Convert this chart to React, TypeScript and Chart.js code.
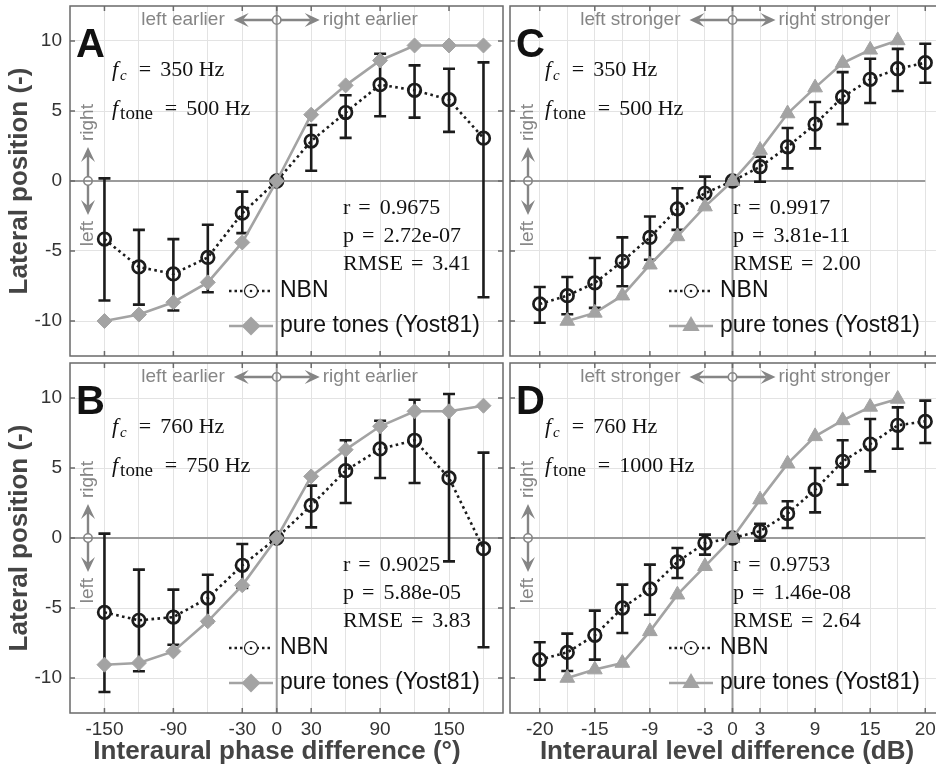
import React, { useEffect, useRef } from 'react';
import { Chart, registerables } from 'chart.js';

Chart.register(...registerables);

// ---------------- data ----------------
// Interaural phase difference (deg)
const IPD_DEG = [-150, -120, -90, -60, -30, 0, 30, 60, 90, 120, 150, 180];
const IPD_GRID = [-150, -120, -90, -60, -30, 0, 30, 60, 90, 120, 150, 180];
const IPD_TICK_LABELS = [-150, -90, -30, 0, 30, 90, 150];

// Interaural level difference (dB), plotted at equally spaced positions
const ILD_DB = [-20, -18, -15, -12, -9, -6, -3, 0, 3, 6, 9, 12, 15, 18, 20];
const ILD_TICK_LABELS = [-20, -15, -9, -3, 0, 3, 9, 15, 20];
const ILD_POS = ILD_DB.map((_, i) => i - (ILD_DB.length - 1) / 2);

const Y_TICKS = [-10, -5, 0, 5, 10];

// Panel A: fc = 350 Hz, IPD
const A_NBN = [-4.15, -6.14, -6.64, -5.46, -2.3, 0, 2.85, 4.89, 6.88, 6.48, 5.81, 3.06];
const A_NBN_LO = [-8.54, -8.83, -9.25, -7.95, -3.72, 0, 0.73, 3.08, 4.63, 4.53, 3.51, -8.3];
const A_NBN_HI = [0.19, -3.49, -4.15, -3.13, -0.76, 0, 4.0, 6.12, 9.09, 8.26, 8.02, 8.47];
const A_PT = [-10.0, -9.54, -8.66, -7.24, -4.39, 0, 4.74, 6.83, 8.61, 9.68, 9.68, 9.68];

// Panel B: fc = 760 Hz, IPD
const B_NBN = [-5.31, -5.88, -5.65, -4.29, -1.95, 0, 2.33, 4.81, 6.36, 6.98, 4.29, -0.76];
const B_NBN_LO = [-11.0, -9.52, -7.62, -6.02, -3.57, 0, 0.76, 2.5, 4.29, 3.93, -1.67, -7.8];
const B_NBN_HI = [0.31, -2.26, -3.69, -2.62, -0.43, 0, 3.74, 6.98, 8.38, 9.88, 10.29, 6.1];
const B_PT = [-9.05, -8.93, -8.1, -5.95, -3.38, 0, 4.4, 6.31, 7.98, 9.05, 9.05, 9.45];

// Panel C: fc = 350 Hz, ILD
const C_NBN = [-8.78, -8.19, -7.28, -5.74, -4.03, -1.99, -0.88, 0, 1.02, 2.44, 4.06, 6.0, 7.26, 8.02, 8.45];
const C_NBN_LO = [-10.13, -9.52, -9.06, -7.52, -5.62, -3.49, -1.94, 0, -0.05, 0.9, 2.33, 4.06, 5.57, 6.43, 7.02];
const C_NBN_HI = [-7.57, -6.86, -5.5, -4.03, -2.54, -0.52, 0.31, 0, 1.73, 3.79, 5.64, 7.78, 8.73, 9.44, 9.8];
const C_PT = [null, -10.0, -9.42, -8.19, -5.98, -3.96, -1.83, 0, 2.21, 4.82, 6.67, 8.42, 9.37, 10.04, null];

// Panel D: fc = 760 Hz, ILD
const D_NBN = [-8.69, -8.17, -6.95, -5.0, -3.64, -1.71, -0.36, 0, 0.48, 1.74, 3.45, 5.47, 6.71, 8.05, 8.33];
const D_NBN_LO = [-10.12, -9.5, -8.69, -6.79, -5.48, -2.86, -1.19, 0, -0.19, 0.71, 1.83, 3.81, 4.76, 6.38, 6.79];
const D_NBN_HI = [-7.45, -6.83, -5.19, -3.33, -1.9, -0.71, 0.24, 0, 1.02, 2.62, 5.0, 6.98, 8.5, 9.33, 9.81];
const D_PT = [null, -10.0, -9.4, -8.93, -6.67, -4.05, -2.02, 0, 2.74, 5.31, 7.26, 8.4, 9.36, 9.93, null];

// ---------------- styles / layout ----------------
const SANS = "'Liberation Sans', Arial, Helvetica, sans-serif";
const SERIF = "'Liberation Serif', 'Times New Roman', serif";
const BLACK = '#1c1c1c';
const GRAY = '#a3a3a3';
const GRID_C = '#e3e3e3';
const ZERO_C = '#9b9b9b';
const BORDER_C = '#6a6a6a';
const ANNOT_C = '#858585';
const TICK_TEXT = '#333333';
const TITLE_C = '#444444';
const CANVAS_W = 960;
const CANVAS_H = 770;

type Panel = {
  key: string;
  kind: 'ipd' | 'ild';
  area: { l: number; t: number; r: number; b: number };
  nbn: number[];
  lo: number[];
  hi: number[];
  pt: (number | null)[];
  fc: string;
  ftone: string;
  stats: string[];
  left: boolean;
  bottom: boolean;
};

const PANELS: Panel[] = [
  { key: 'A', kind: 'ipd', area: { l: 70, t: 6, r: 503, b: 356 }, nbn: A_NBN, lo: A_NBN_LO, hi: A_NBN_HI, pt: A_PT,
    fc: '350 Hz', ftone: '500 Hz', stats: ['0.9675', '2.72e-07', '3.41'], left: true, bottom: false },
  { key: 'B', kind: 'ipd', area: { l: 70, t: 363, r: 503, b: 713 }, nbn: B_NBN, lo: B_NBN_LO, hi: B_NBN_HI, pt: B_PT,
    fc: '760 Hz', ftone: '750 Hz', stats: ['0.9025', '5.88e-05', '3.83'], left: true, bottom: true },
  { key: 'C', kind: 'ild', area: { l: 510, t: 6, r: 955, b: 356 }, nbn: C_NBN, lo: C_NBN_LO, hi: C_NBN_HI, pt: C_PT,
    fc: '350 Hz', ftone: '500 Hz', stats: ['0.9917', '3.81e-11', '2.00'], left: false, bottom: false },
  { key: 'D', kind: 'ild', area: { l: 510, t: 363, r: 955, b: 713 }, nbn: D_NBN, lo: D_NBN_LO, hi: D_NBN_HI, pt: D_PT,
    fc: '760 Hz', ftone: '1000 Hz', stats: ['0.9753', '1.46e-08', '2.64'], left: false, bottom: true },
];

function arrowHead(ctx: CanvasRenderingContext2D, tx: number, ty: number, dx: number, dy: number) {
  const len = 15, w = 7, notch = 9;
  const bx = tx - dx * len, by = ty - dy * len;
  const nx = tx - dx * notch, ny = ty - dy * notch;
  const px = -dy, py = dx;
  ctx.beginPath();
  ctx.moveTo(tx, ty);
  ctx.lineTo(bx + px * w, by + py * w);
  ctx.lineTo(nx, ny);
  ctx.lineTo(bx - px * w, by - py * w);
  ctx.closePath();
  ctx.fill();
}

function drawEq(ctx: CanvasRenderingContext2D, x: number, y: number, lhs: string, rhs: string, size: number) {
  ctx.font = `${size}px ${SERIF}`;
  ctx.fillText(lhs, x, y);
  let cx = x + ctx.measureText(lhs).width + 8;
  ctx.fillText('=', cx, y);
  cx += ctx.measureText('=').width + 9;
  ctx.fillText(rhs, cx, y);
}

function drawFText(ctx: CanvasRenderingContext2D, x: number, y: number, sub: string, subItalic: boolean, subSize: number, rhs: string) {
  ctx.font = `italic 22px ${SERIF}`;
  ctx.fillText('f', x, y);
  let cx = x + ctx.measureText('f').width + 2;
  ctx.font = `${subItalic ? 'italic ' : ''}${subSize}px ${SERIF}`;
  ctx.fillText(sub, cx, y + 4);
  cx += ctx.measureText(sub).width + 12;
  ctx.font = `22px ${SERIF}`;
  ctx.fillText('=', cx, y);
  cx += ctx.measureText('=').width + 9;
  ctx.fillText(rhs, cx, y);
}

function makePlugin(p: Panel) {
  const isIld = p.kind === 'ild';
  const xs = isIld ? ILD_POS : IPD_DEG;
  const labeledX = isIld
    ? ILD_POS.filter((_, i) => ILD_TICK_LABELS.includes(ILD_DB[i]))
    : IPD_TICK_LABELS;
  return {
    id: 'decor' + p.key,
    beforeDatasetsDraw(chart: any) {
      const { ctx, chartArea: a, scales } = chart;
      const x = scales.x, y = scales.y;
      ctx.save();
      // zero lines
      const y0 = y.getPixelForValue(0);
      const x0 = x.getPixelForValue(0);
      const xEnd = isIld ? Math.min(a.right, x.getPixelForValue(xs[xs.length - 1])) : a.right;
      ctx.strokeStyle = ZERO_C;
      ctx.lineWidth = 2;
      ctx.beginPath();
      ctx.moveTo(a.left, y0);
      ctx.lineTo(xEnd, y0);
      ctx.stroke();
      ctx.beginPath();
      ctx.moveTo(x0, a.top);
      ctx.lineTo(x0, a.bottom);
      ctx.stroke();
      // error bars
      ctx.strokeStyle = BLACK;
      ctx.lineWidth = 2.6;
      xs.forEach((xv, i) => {
        const lo = p.lo[i], hi = p.hi[i];
        if (lo === hi) return;
        const px = x.getPixelForValue(xv);
        const pl = y.getPixelForValue(lo);
        const ph = y.getPixelForValue(hi);
        ctx.beginPath();
        ctx.moveTo(px, pl);
        ctx.lineTo(px, ph);
        ctx.moveTo(px - 6, pl);
        ctx.lineTo(px + 6, pl);
        ctx.moveTo(px - 6, ph);
        ctx.lineTo(px + 6, ph);
        ctx.stroke();
      });
      ctx.restore();
    },
    afterDatasetsDraw(chart: any) {
      const { ctx, chartArea: a, scales } = chart;
      const x = scales.x, y = scales.y;
      ctx.save();
      // box border
      ctx.strokeStyle = BORDER_C;
      ctx.lineWidth = 1.5;
      ctx.strokeRect(a.left, a.top, a.right - a.left, a.bottom - a.top);
      // inward tick marks
      ctx.beginPath();
      labeledX.forEach((v) => {
        const px = x.getPixelForValue(v);
        ctx.moveTo(px, a.bottom);
        ctx.lineTo(px, a.bottom - 5);
        ctx.moveTo(px, a.top);
        ctx.lineTo(px, a.top + 5);
      });
      Y_TICKS.forEach((v) => {
        const py = y.getPixelForValue(v);
        ctx.moveTo(a.left, py);
        ctx.lineTo(a.left + 5, py);
        ctx.moveTo(a.right, py);
        ctx.lineTo(a.right - 5, py);
      });
      ctx.stroke();

      const y0 = y.getPixelForValue(0);
      const x0 = x.getPixelForValue(0);

      // top direction arrow
      const ay = a.top + 14;
      ctx.strokeStyle = ANNOT_C;
      ctx.fillStyle = ANNOT_C;
      ctx.lineWidth = 2.4;
      ctx.beginPath();
      ctx.moveTo(x0 - 34, ay);
      ctx.lineTo(x0 - 4, ay);
      ctx.moveTo(x0 + 4, ay);
      ctx.lineTo(x0 + 34, ay);
      ctx.stroke();
      ctx.lineWidth = 1.6;
      ctx.beginPath();
      ctx.arc(x0, ay, 4.2, 0, Math.PI * 2);
      ctx.stroke();
      arrowHead(ctx, x0 - 43, ay, -1, 0);
      arrowHead(ctx, x0 + 43, ay, 1, 0);
      ctx.font = `19px ${SANS}`;
      ctx.textBaseline = 'middle';
      ctx.textAlign = 'right';
      ctx.fillText(isIld ? 'left stronger' : 'left earlier', x0 - 52, ay);
      ctx.textAlign = 'left';
      ctx.fillText(isIld ? 'right stronger' : 'right earlier', x0 + 46, ay);

      // vertical direction arrow
      const vx = a.left + 18;
      ctx.lineWidth = 2.4;
      ctx.beginPath();
      ctx.moveTo(vx, y0 - 26);
      ctx.lineTo(vx, y0 - 4);
      ctx.moveTo(vx, y0 + 4);
      ctx.lineTo(vx, y0 + 26);
      ctx.stroke();
      ctx.lineWidth = 1.6;
      ctx.beginPath();
      ctx.arc(vx, y0, 4.2, 0, Math.PI * 2);
      ctx.stroke();
      arrowHead(ctx, vx, y0 - 34, 0, -1);
      arrowHead(ctx, vx, y0 + 34, 0, 1);
      ctx.save();
      ctx.translate(vx, y0 - 40);
      ctx.rotate(-Math.PI / 2);
      ctx.textAlign = 'left';
      ctx.fillText('right', 0, 0);
      ctx.restore();
      ctx.save();
      ctx.translate(vx, y0 + 40);
      ctx.rotate(-Math.PI / 2);
      ctx.textAlign = 'right';
      ctx.fillText('left', 0, 0);
      ctx.restore();

      // panel letter
      ctx.fillStyle = '#111111';
      ctx.textAlign = 'left';
      ctx.textBaseline = 'alphabetic';
      ctx.font = `bold 40px ${SANS}`;
      ctx.fillText(p.key, a.left + 6, a.top + 51);

      // frequency texts
      const fx = a.left + (p.left ? 42 : 35);
      drawFText(ctx, fx, a.top + 70, 'c', true, 15, p.fc);
      drawFText(ctx, fx, a.top + 109, 'tone', false, 19, p.ftone);

      // statistics
      const sx = a.left + (p.left ? 273 : 223);
      drawEq(ctx, sx, a.top + 208, 'r', p.stats[0], 22);
      drawEq(ctx, sx, a.top + 236, 'p', p.stats[1], 22);
      drawEq(ctx, sx, a.top + 264, 'RMSE', p.stats[2], 22);

      // legend
      const lx0 = a.left + 159, lx1 = a.left + 203, lxm = (lx0 + lx1) / 2;
      const ly1 = a.top + 285, ly2 = a.top + 320;
      ctx.strokeStyle = BLACK;
      ctx.lineWidth = 2.4;
      ctx.setLineDash([2.5, 3]);
      ctx.beginPath();
      ctx.moveTo(lx0, ly1);
      ctx.lineTo(lx1, ly1);
      ctx.stroke();
      ctx.setLineDash([]);
      ctx.fillStyle = '#ffffff';
      ctx.lineWidth = 1.2;
      ctx.beginPath();
      ctx.arc(lxm, ly1, 6.5, 0, Math.PI * 2);
      ctx.fill();
      ctx.stroke();
      ctx.fillStyle = BLACK;
      ctx.beginPath();
      ctx.arc(lxm, ly1, 1.3, 0, Math.PI * 2);
      ctx.fill();

      ctx.strokeStyle = GRAY;
      ctx.fillStyle = GRAY;
      ctx.lineWidth = 2.6;
      ctx.beginPath();
      ctx.moveTo(lx0, ly2);
      ctx.lineTo(lx1, ly2);
      ctx.stroke();
      ctx.beginPath();
      if (isIld) {
        const r = 10;
        ctx.moveTo(lxm, ly2 - r);
        ctx.lineTo(lxm + r * 0.866, ly2 + r * 0.5);
        ctx.lineTo(lxm - r * 0.866, ly2 + r * 0.5);
      } else {
        const r = 9.5;
        ctx.moveTo(lxm, ly2 - r);
        ctx.lineTo(lxm + r, ly2);
        ctx.lineTo(lxm, ly2 + r);
        ctx.lineTo(lxm - r, ly2);
      }
      ctx.closePath();
      ctx.fill();

      ctx.fillStyle = '#111111';
      ctx.font = `23px ${SANS}`;
      ctx.textBaseline = 'middle';
      ctx.fillText('NBN', a.left + 210, ly1);
      ctx.fillText('pure tones (Yost81)', a.left + 210, ly2);

      // x-axis title (bottom row only)
      if (p.bottom) {
        ctx.fillStyle = TITLE_C;
        ctx.font = `bold 26px ${SANS}`;
        ctx.textAlign = 'center';
        ctx.textBaseline = 'middle';
        ctx.fillText(
          isIld ? 'Interaural level difference (dB)' : 'Interaural phase difference (°)',
          a.left + (p.left ? 207 : 217),
          a.bottom + 39,
        );
      }
      ctx.restore();
    },
  };
}

function zeroScalePadding(scale: any) {
  scale.paddingTop = 0;
  scale.paddingBottom = 0;
  scale.paddingLeft = 0;
  scale.paddingRight = 0;
}

function makeChart(canvas: HTMLCanvasElement, p: Panel) {
  const isIld = p.kind === 'ild';
  const xs = isIld ? ILD_POS : IPD_DEG;
  const gridX = isIld ? ILD_POS : IPD_GRID;
  const nbnData = xs.map((x, i) => ({ x, y: p.nbn[i] }));
  const ptData = xs.map((x, i) => ({ x, y: p.pt[i] })).filter((d) => d.y !== null);
  const yW = p.left ? 70 : 0;
  const xH = p.bottom ? 55 : 0;

  return new Chart(canvas, {
    type: 'line',
    data: {
      datasets: [
        {
          label: 'pure tones (Yost81)',
          data: ptData as any,
          order: 0,
          borderColor: GRAY,
          backgroundColor: GRAY,
          borderWidth: 2.6,
          tension: 0,
          pointStyle: isIld ? 'triangle' : 'rectRot',
          pointRadius: isIld ? 8.5 : 7.5,
          pointBackgroundColor: GRAY,
          pointBorderColor: GRAY,
          pointBorderWidth: 1,
        },
        {
          label: 'NBN',
          data: nbnData as any,
          order: 1,
          borderColor: BLACK,
          borderWidth: 2.6,
          borderDash: [2.6, 3.4],
          tension: 0,
          pointStyle: 'circle',
          pointRadius: 6.3,
          pointBorderWidth: 2.7,
          pointBackgroundColor: 'rgba(0,0,0,0)',
          pointBorderColor: BLACK,
        },
      ],
    },
    options: {
      animation: false,
      responsive: false,
      devicePixelRatio: 1,
      events: [],
      layout: {
        autoPadding: false,
        padding: {
          left: p.area.l - yW,
          top: p.area.t,
          right: CANVAS_W - p.area.r,
          bottom: CANVAS_H - p.area.b - xH,
        },
      },
      plugins: {
        legend: { display: false },
        tooltip: { enabled: false },
      },
      scales: {
        x: {
          type: 'linear',
          min: isIld ? -8.08 : -180,
          max: isIld ? 8.08 : 197,
          afterBuildTicks: (scale: any) => {
            scale.ticks = gridX.map((v) => ({ value: v }));
          },
          afterFit: (scale: any) => {
            scale.height = xH;
            zeroScalePadding(scale);
          },
          border: { display: false },
          grid: {
            color: (c: any) => (c.tick && c.tick.value === 0 ? 'rgba(0,0,0,0)' : GRID_C),
            lineWidth: 1,
            drawTicks: false,
          },
          ticks: {
            display: p.bottom,
            autoSkip: false,
            maxRotation: 0,
            padding: 5,
            color: TICK_TEXT,
            font: { family: SANS, size: 19 },
            callback: (v: any) => {
              if (isIld) {
                const i = Math.round(Number(v) + (ILD_DB.length - 1) / 2);
                const db = ILD_DB[i];
                return ILD_TICK_LABELS.includes(db) ? String(db) : '';
              }
              return IPD_TICK_LABELS.includes(Number(v)) ? String(v) : '';
            },
          },
          title: { display: false },
        },
        y: {
          type: 'linear',
          min: -12.5,
          max: 12.5,
          afterBuildTicks: (scale: any) => {
            scale.ticks = Y_TICKS.map((v) => ({ value: v }));
          },
          afterFit: (scale: any) => {
            scale.width = yW;
            zeroScalePadding(scale);
          },
          border: { display: false },
          grid: {
            color: (c: any) => (c.tick && c.tick.value === 0 ? 'rgba(0,0,0,0)' : GRID_C),
            lineWidth: 1,
            drawTicks: false,
          },
          ticks: {
            display: p.left,
            padding: 8,
            color: TICK_TEXT,
            font: { family: SANS, size: 19 },
            callback: (v: any) => String(v),
          },
          title: {
            display: p.left,
            text: 'Lateral position (-)',
            color: TITLE_C,
            font: { family: SANS, size: 26, weight: 'bold' },
            padding: { top: 4, bottom: 0 },
          },
        },
      },
    } as any,
    plugins: [makePlugin(p)],
  });
}

export default function App() {
  const r0 = useRef<HTMLCanvasElement>(null);
  const r1 = useRef<HTMLCanvasElement>(null);
  const r2 = useRef<HTMLCanvasElement>(null);
  const r3 = useRef<HTMLCanvasElement>(null);
  const refs = [r0, r1, r2, r3];

  useEffect(() => {
    const charts = PANELS.map((p, i) => makeChart(refs[i].current as HTMLCanvasElement, p));
    return () => charts.forEach((c) => c.destroy());
  }, []);

  return (
    <div
      style={{
        position: 'fixed',
        left: 0,
        top: 0,
        width: 936,
        height: 767,
        overflow: 'hidden',
        background: '#ffffff',
      }}
    >
      {PANELS.map((p, i) => (
        <canvas
          key={p.key}
          ref={refs[i]}
          width={CANVAS_W}
          height={CANVAS_H}
          style={{ position: 'absolute', left: 0, top: 0, width: CANVAS_W, height: CANVAS_H }}
        />
      ))}
    </div>
  );
}
